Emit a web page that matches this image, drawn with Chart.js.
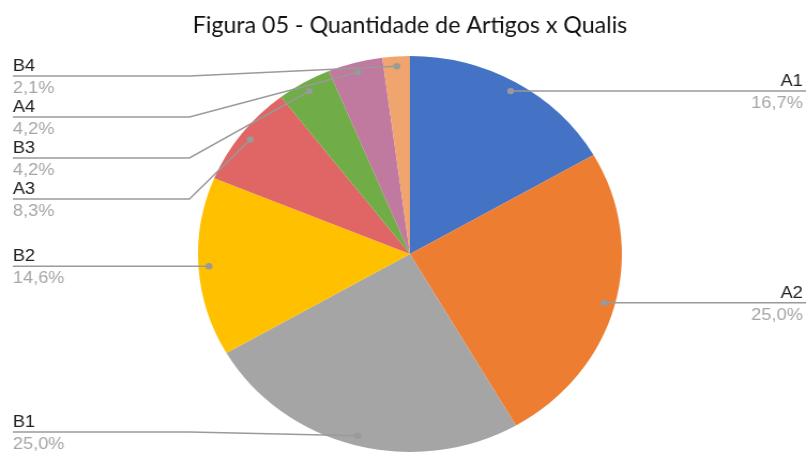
<!DOCTYPE html>
<html>
<head>
<meta charset="utf-8">
<script src="https://cdn.jsdelivr.net/npm/chart.js@4"></script>
<style>
  html, body { margin: 0; padding: 0; background: #fff; overflow: hidden; }
  #chart { display: block; }
</style>
</head>
<body>
<!-- drawn 753 wide and stretched to 806, the reference is squashed the same way -->
<canvas id="chart" width="753" height="453" style="width:806px;height:453px"></canvas>
<script>
let titleText = "Figura 05 - Quantidade de Artigos x Qualis";
let categories = ["A1", "A2", "B1", "B2", "A3", "B3", "A4", "B4"];
let articles = [8, 12, 12, 7, 4, 2, 2, 1];
let sliceColors = ["#4472C4", "#ED7D31", "#A5A5A5", "#FFC000", "#E06666", "#70AD47", "#C0799F", "#F0A46E"];

let canvas = document.getElementById("chart");

// fit the title to the width it has in the reference
let measure = document.createElement("canvas").getContext("2d");
measure.font = "20px Lato";
let titleSize = 20 * 423 / measure.measureText(titleText).width;

let labelFont = '17px "Liberation Sans", Arial, sans-serif';

function percentText(v) {
    let total = articles.reduce((a, b) => a + b, 0);
    return (v / total * 100).toFixed(1).replace(".", ",") + "%";
}

let leaderLines = {
    id: "leaderLines",
    afterDatasetsDraw(chart) {
        let ctx = chart.ctx;
        let arcs = chart.getDatasetMeta(0).data;

        let items = arcs.map((arc, i) => {
            let mid = (arc.startAngle + arc.endAngle) / 2;
            let r = arc.outerRadius * 0.95;
            return {
                i: i,
                x: arc.x + Math.cos(mid) * r,
                y: arc.y + Math.sin(mid) * r,
                right: Math.cos(mid) > 0
            };
        });

        let gap = 41, top = 76, bottom = 432;
        [true, false].forEach(side => {
            let list = items.filter(it => it.right === side).sort((a, b) => a.y - b.y);
            let prev = -Infinity;
            list.forEach(it => {
                it.ly = Math.max(it.y, prev + gap, top);
                prev = it.ly;
            });
            let next = Infinity;
            for (let k = list.length - 1; k >= 0; k--) {
                list[k].ly = Math.min(list[k].ly, next - gap, bottom);
                next = list[k].ly;
            }
        });

        ctx.save();
        ctx.strokeStyle = "#9a9a9a";
        ctx.fillStyle = "#9a9a9a";
        ctx.lineWidth = 1.5;
        items.forEach(it => {
            ctx.beginPath();
            if (it.right) {
                ctx.moveTo(it.x, it.y);
                if (it.ly !== it.y) ctx.lineTo(588, it.ly);
                ctx.lineTo(753, it.ly);
            } else {
                ctx.moveTo(12, it.ly);
                ctx.lineTo(177, it.ly);
                ctx.lineTo(it.x, it.y);
            }
            ctx.stroke();
            ctx.beginPath();
            ctx.arc(it.x, it.y, 3.2, 0, Math.PI * 2);
            ctx.fill();
        });

        ctx.font = labelFont;
        ctx.textBaseline = "alphabetic";
        items.forEach(it => {
            let tx = it.right ? 750 : 12;
            ctx.textAlign = it.right ? "right" : "left";
            ctx.fillStyle = "#222";
            ctx.fillText(categories[it.i], tx, it.ly - 5);
            ctx.fillStyle = "#a6a6a6";
            ctx.fillText(percentText(articles[it.i]), tx, it.ly + 17);
        });
        ctx.restore();
    }
};

new Chart(canvas, {
    type: "pie",
    data: {
        labels: categories,
        datasets: [{
            data: articles,
            backgroundColor: sliceColors,
            borderWidth: 0
        }]
    },
    options: {
        responsive: false,
        animation: false,
        devicePixelRatio: 1,
        layout: {
            padding: { left: 180, right: 167, top: 0, bottom: 1 }
        },
        plugins: {
            legend: { display: false },
            tooltip: { enabled: false },
            title: {
                display: true,
                text: titleText,
                color: "#111",
                font: { family: "Lato", size: titleSize, weight: "normal", lineHeight: 1.2 },
                padding: { top: 12, bottom: 56 - 12 - titleSize * 1.2 }
            }
        }
    },
    plugins: [leaderLines]
});
</script>
</body>
</html>
